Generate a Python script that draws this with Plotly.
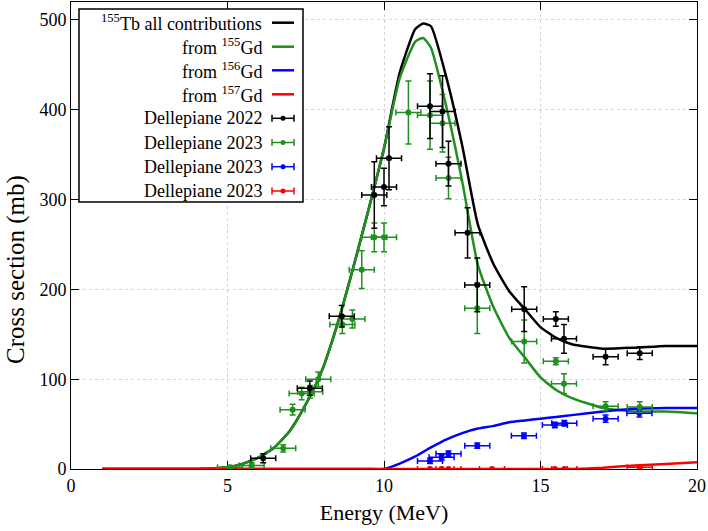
import plotly.graph_objects as go

# curves (model)
energy = [1, 2, 3, 4, 4.5, 5, 5.5, 6, 6.5, 7, 7.5, 8, 8.5, 9, 9.5, 10, 10.5, 11, 11.25,
          11.5, 12, 12.5, 13, 13.5, 14, 14.5, 15, 15.5, 16, 17, 18, 19, 20]
tb_all = [0, 0, 0, 0, 0.5, 2, 6, 13, 24, 43, 72, 108, 160, 222, 288, 357, 441, 490, 496,
          493, 435, 360, 272, 228, 198, 178, 158, 146, 139, 134, 135, 137, 137]
from_gd155 = [0, 0, 0, 0, 0.5, 2, 6, 13, 24, 43, 72, 108, 160, 222, 288, 357, 435, 476, 480,
              469, 402, 320, 227, 180, 146, 124, 102, 88, 79, 68, 64, 64, 62]
from_gd156 = [0, 0, 0, 0, 0, 0, 0, 0, 0, 0, 0, 0, 0, 0, 0, 0, 6, 14, 19,
              24, 33, 40, 45, 48, 52, 54, 56, 58, 60, 64, 67, 68, 68]
from_gd157 = [0, 0, 0, 0, 0, 0, 0, 0, 0, 0, 0, 0, 0, 0, 0, 0, 0, 0, 0,
              0, 0, 0, 0, 0, 0, 0, 0, 0, 0, 1.5, 4, 5.5, 7.5]

# measurements
d22_e = [6.14, 7.63, 8.65, 9.69, 10.0, 10.16, 11.47, 11.87, 12.06, 12.67, 12.98, 14.48,
         15.49, 15.75, 17.08, 18.17]
d22_y = [12, 90, 170, 305, 314, 346, 404, 398, 340, 263, 205, 178, 167, 145, 125, 129]
d22_dy = [5, 8, 12, 37, 21, 35, 36, 40, 25, 28, 30, 25, 8, 16, 9, 7]

d23a_e = [5.08, 5.77, 6.78, 7.08, 7.37, 7.64, 7.90, 8.67, 8.99, 9.29, 9.69, 10.0, 10.78,
          11.47, 11.87, 12.06, 12.98, 14.48, 15.49, 15.75, 17.08, 18.17]
d23a_y = [2, 4, 23, 66, 84, 86, 100, 161, 167, 222, 258, 258, 397, 394, 385, 324, 179,
          142, 120, 95, 70, 69]
d23a_dy = [2, 3, 4, 6, 7, 7, 8, 10, 10, 21, 16, 16, 35, 38, 32, 23, 28, 24, 4, 11, 5, 6]

d23b_e = [11.47, 11.84, 12.06, 12.98, 14.47, 15.46, 15.76, 17.08, 18.16]
d23b_y = [9, 13, 17, 26, 37, 49, 51, 56, 62]
d23b_dy = [3, 3, 3, 3, 3, 3, 3, 4, 4]

d23c_e = [11.47, 11.84, 12.06, 13.45, 15.46, 15.76, 18.17]
d23c_y = [0, 0, 0, 0, 0, 0, 2]
d23c_dy = [0, 0, 0, 0, 0, 0, 1]

x_err = 0.4

legend_labels = ["<sup>155</sup>Tb all contributions", "from <sup>155</sup>Gd",
                 "from <sup>156</sup>Gd", "from <sup>157</sup>Gd",
                 "Dellepiane 2022", "Dellepiane 2023", "Dellepiane 2023", "Dellepiane 2023"]

GREEN = "#1f8f1f"
colors = ["black", GREEN, "blue", "red"]
FONT = "Liberation Serif"

fig = go.Figure()

for ys, c in zip([tb_all, from_gd155, from_gd156, from_gd157], colors):
    fig.add_trace(go.Scatter(x=energy, y=ys, mode="lines",
                             line=dict(color=c, width=2.5, shape="spline", smoothing=0.5),
                             showlegend=False))

for ex, ey, edy, c in [(d23c_e, d23c_y, d23c_dy, "red"), (d23b_e, d23b_y, d23b_dy, "blue"),
                       (d23a_e, d23a_y, d23a_dy, GREEN), (d22_e, d22_y, d22_dy, "black")]:
    fig.add_trace(go.Scatter(
        x=ex, y=ey, mode="markers",
        marker=dict(color=c, size=6),
        error_x=dict(type="constant", value=x_err, color=c, thickness=1.5, width=3),
        error_y=dict(type="data", array=edy, color=c, thickness=1.5, width=3),
        showlegend=False))

# plot area in pixels
L, R, T, B = 71, 697, 2, 469


def px(x):
    return (x - L) / (R - L)


def py(y):
    return (B - y) / (B - T)


shapes = [dict(type="rect", xref="paper", yref="paper", x0=px(79), x1=px(303), y0=py(9), y1=py(202),
               line=dict(color="black", width=1.5), fillcolor="white", layer="above")]
annotations = []
row_y = [22.7, 46.7, 70.3, 94.3, 118.3, 142.5, 166.7, 191]
for i, (lab, yy) in enumerate(zip(legend_labels, row_y)):
    c = colors[i % 4]
    annotations.append(dict(xref="paper", yref="paper", x=px(264), y=py(yy), text=lab, showarrow=False,
                            xanchor="right", yanchor="middle", font=dict(family=FONT, size=18, color="black")))
    if i < 4:
        shapes.append(dict(type="line", xref="paper", yref="paper", x0=px(272), x1=px(294), y0=py(yy), y1=py(yy),
                           line=dict(color=c, width=2.5)))
    else:
        shapes.append(dict(type="line", xref="paper", yref="paper", x0=px(272), x1=px(294), y0=py(yy), y1=py(yy),
                           line=dict(color=c, width=1.5)))
        for xe in (272, 294):
            shapes.append(dict(type="line", xref="paper", yref="paper", x0=px(xe), x1=px(xe), y0=py(yy - 3.5),
                               y1=py(yy + 3.5), line=dict(color=c, width=1.5)))
        shapes.append(dict(type="circle", xref="paper", yref="paper", x0=px(280.5), x1=px(285.5),
                           y0=py(yy - 2.5), y1=py(yy + 2.5), fillcolor=c, line=dict(color=c, width=0)))

# y axis title, centred on the canvas like gnuplot does
annotations.append(dict(xref="paper", yref="paper", x=px(16), y=py(270), text="Cross section (mb)",
                        textangle=-90, showarrow=False, xanchor="center", yanchor="middle",
                        font=dict(family=FONT, size=25, color="black")))

fig.update_layout(
    width=708, height=531,
    margin=dict(l=L, r=708 - R, t=T, b=531 - B, autoexpand=False),
    paper_bgcolor="white", plot_bgcolor="white",
    font=dict(family=FONT, size=18, color="black"),
    shapes=shapes, annotations=annotations,
    showlegend=False,
)
axis_common = dict(showline=True, linecolor="black", linewidth=1, mirror="allticks", ticks="inside",
                   ticklen=8, tickcolor="black", showgrid=True, gridcolor="#d4d4d4", griddash="dot",
                   gridwidth=1, zeroline=False, layer="below traces", automargin=False,
                   tickfont=dict(family=FONT, size=18))
fig.update_xaxes(range=[0, 20], dtick=5, tick0=0,
                 title=dict(text="Energy (MeV)", font=dict(family=FONT, size=22), standoff=10), **axis_common)
fig.update_yaxes(range=[0, 520], dtick=100, tick0=0, **axis_common)

# page body has a default 8px margin; drop it so the figure fills the window
fig.write_html("out.html", config={"displayModeBar": False},
               post_script="document.body.style.margin='0';")
